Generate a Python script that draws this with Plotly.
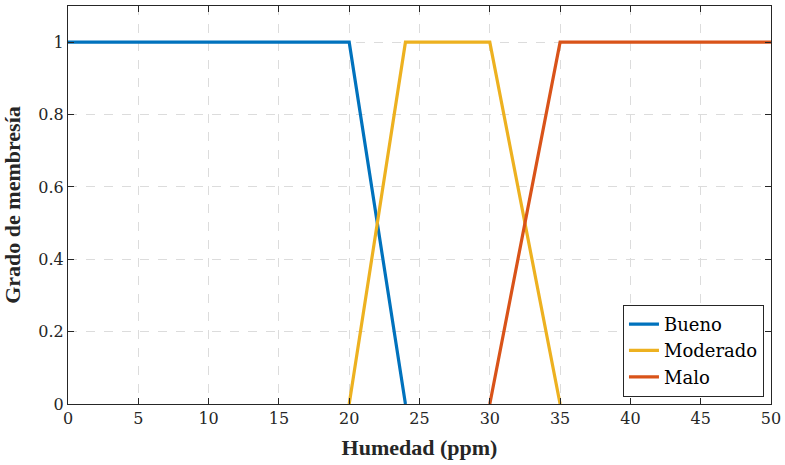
import plotly.graph_objects as go

bueno_x = [0, 20, 24]
bueno_y = [1, 1, 0]
moderado_x = [20, 24, 30, 35]
moderado_y = [0, 1, 1, 0]
malo_x = [30, 35, 50]
malo_y = [0, 1, 1]
names = ["Bueno", "Moderado", "Malo"]
colors = ["#0072BD", "#EDB120", "#D95319"]
x_ticks = list(range(0, 51, 5))
y_ticks = [0, 0.2, 0.4, 0.6, 0.8, 1]

fig = go.Figure()
for xs, ys, n, c in zip([bueno_x, moderado_x, malo_x], [bueno_y, moderado_y, malo_y], names, colors):
    fig.add_trace(go.Scatter(x=xs, y=ys, mode="lines", name=n,
                             line=dict(color=c, width=3.2)))

title_family = "Liberation Serif"
text_family = "DejaVu Serif"
axis_common = dict(showline=True, linecolor="#262626", linewidth=1, mirror="ticks",
                   ticks="inside", ticklen=6, tickcolor="#262626",
                   showgrid=True, gridcolor="#dcdcdc", griddash="dash", gridwidth=1,
                   zeroline=False, automargin=False,
                   tickfont=dict(family=text_family, size=16, color="#262626"))

fig.update_layout(
    width=785, height=465,
    margin=dict(l=68, r=14, t=6, b=61),
    plot_bgcolor="white", paper_bgcolor="white",
    font=dict(family=text_family, color="#262626"),
    xaxis=dict(range=[0, 50], tickvals=x_ticks, ticktext=[str(v) for v in x_ticks],
               title=dict(text="<b>Humedad (ppm)</b>", font=dict(size=22, family=title_family), standoff=12),
               **axis_common),
    yaxis=dict(range=[0, 1.1], tickvals=y_ticks, ticktext=["0", "0.2", "0.4", "0.6", "0.8", "1"],
               title=dict(text="<b>Grado de membresía</b>", font=dict(size=22, family=title_family), standoff=12),
               **axis_common),
    legend=dict(x=0.990, y=0.018, xanchor="right", yanchor="bottom",
                bgcolor="white", bordercolor="#262626", borderwidth=1,
                font=dict(family=text_family, size=18, color="black"),
                tracegroupgap=0, itemwidth=30),
    showlegend=True,
)

fig.write_html("out.html")
